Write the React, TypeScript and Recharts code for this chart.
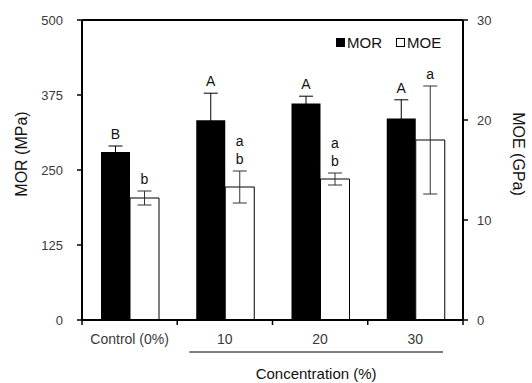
import { Bar, ComposedChart, ErrorBar, LabelList, ReferenceLine, XAxis, YAxis } from "recharts";

const categories = ["Control (0%)", "10", "20", "30"];
const mor = [280, 333, 361, 336];
const morErr = [10, 45, 12, 31];
const moe = [12.2, 13.3, 14.1, 18.0];
const moeErr = [0.7, 1.6, 0.6, 5.4];
const morLetters = [["B"], ["A"], ["A"], ["A"]];
const moeLetters = [["b"], ["a", "b"], ["a", "b"], ["a"]];
const morTicks = [0, 125, 250, 375, 500];
const moeTicks = [0, 10, 20, 30];

const data = categories.map((cat, i) => ({
  cat,
  mor: mor[i],
  morErr: morErr[i],
  moe: moe[i],
  moeErr: moeErr[i],
}));

const W = 532;
const H = 383;
const LEFT_W = 82;
const RIGHT_W = 69;
const BAND = (W - LEFT_W - RIGHT_W) / categories.length;
const FONT = "'Liberation Sans', Arial, sans-serif";
const TICK = { fontSize: 13, fill: "#3a3a3a", fontFamily: FONT };

// letters sit above the top of each error bar
function letters(list: string[][], errs: number[]) {
  return (p: any) => {
    const { x, y, width, height, value, index } = p;
    const errTop = y - (errs[index] * height) / value;
    const cx = x + width / 2;
    const rows = list[index];
    return (
      <g>
        {rows.map((t, k) => (
          <text
            key={k}
            x={cx}
            y={errTop - 12 - (rows.length - 1 - k) * 18}
            textAnchor="middle"
            dominantBaseline="central"
            fontSize={14}
            fontFamily={FONT}
            fill="#111"
          >
            {t}
          </text>
        ))}
      </g>
    );
  };
}

function XTick(p: any) {
  const { x, y, payload, index } = p;
  return (
    <g>
      <line x1={x - BAND / 2} x2={x - BAND / 2} y1={y} y2={y + 5} stroke="#000" strokeWidth={1.5} />
      {index === categories.length - 1 && (
        <line x1={x + BAND / 2} x2={x + BAND / 2} y1={y} y2={y + 5} stroke="#000" strokeWidth={1.5} />
      )}
      <text x={x} y={y + 19} textAnchor="middle" dominantBaseline="central" {...TICK} fontSize={14}>
        {payload.value}
      </text>
    </g>
  );
}

function ConcLabel(p: any) {
  const { x, y, width } = p.viewBox;
  const x0 = x + BAND + 12;
  const x1 = x + width - 20;
  return (
    <g>
      <line x1={x0} x2={x1} y1={y + 32} y2={y + 32} stroke="#000" strokeWidth={1} />
      <text x={(x0 + x1) / 2} y={y + 53} textAnchor="middle" dominantBaseline="central" fontSize={15} fontFamily={FONT} fill="#111">
        Concentration (%)
      </text>
    </g>
  );
}

function SideLabel(text: string, cx: number, angle: number) {
  return (p: any) => {
    const cy = p.viewBox.y + p.viewBox.height / 2 - 16;
    return (
      <text
        x={cx}
        y={cy}
        transform={`rotate(${angle} ${cx} ${cy})`}
        textAnchor="middle"
        dominantBaseline="central"
        fontSize={16}
        fontFamily={FONT}
        fill="#111"
      >
        {text}
      </text>
    );
  };
}

const sq = (filled: boolean) => ({
  display: "inline-block",
  width: 9,
  height: 9,
  marginRight: 2,
  background: filled ? "#000" : "#fff",
  border: "1px solid #000",
  boxSizing: "border-box" as const,
});

export default function App() {
  return (
    <div style={{ position: "absolute", left: 0, top: 0, width: W, height: H, background: "#fff" }}>
      <ComposedChart width={W} height={H} data={data} margin={{ top: 20, right: 0, bottom: 0, left: 0 }} barGap={0} barSize={29}>
        <XAxis
          dataKey="cat"
          height={63}
          interval={0}
          tickLine={false}
          tickSize={0}
          tickMargin={0}
          axisLine={{ stroke: "#000", strokeWidth: 2 }}
          tick={<XTick />}
          label={{ content: ConcLabel }}
        />
        <YAxis
          yAxisId="left"
          width={LEFT_W}
          domain={[0, 500]}
          ticks={morTicks}
          tickSize={5}
          tickMargin={14}
          tick={TICK}
          tickLine={{ stroke: "#000", strokeWidth: 1.5 }}
          axisLine={{ stroke: "#000", strokeWidth: 2 }}
          label={{ content: SideLabel("MOR (MPa)", 21, -90) }}
        />
        <YAxis
          yAxisId="right"
          orientation="right"
          width={RIGHT_W}
          domain={[0, 30]}
          ticks={moeTicks}
          tickSize={5}
          tickMargin={9}
          tick={TICK}
          tickLine={{ stroke: "#000", strokeWidth: 1.5 }}
          axisLine={{ stroke: "#000", strokeWidth: 2 }}
          label={{ content: SideLabel("MOE (GPa)", 518, 90) }}
        />
        <ReferenceLine yAxisId="left" y={500} stroke="#000" strokeWidth={2} />
        <Bar yAxisId="left" dataKey="mor" fill="#000" isAnimationActive={false}>
          <ErrorBar dataKey="morErr" width={7} stroke="#000" strokeWidth={1} />
          <LabelList dataKey="mor" content={letters(morLetters, morErr)} />
        </Bar>
        <Bar yAxisId="right" dataKey="moe" fill="#fff" stroke="#000" strokeWidth={1} isAnimationActive={false}>
          <ErrorBar dataKey="moeErr" width={7} stroke="#333" strokeWidth={1} />
          <LabelList dataKey="moe" content={letters(moeLetters, moeErr)} />
        </Bar>
      </ComposedChart>
      <div
        style={{
          position: "absolute",
          left: 336,
          top: 34,
          fontFamily: FONT,
          fontSize: 15,
          color: "#111",
          display: "flex",
          alignItems: "center",
          whiteSpace: "nowrap",
        }}
      >
        <span style={sq(true)} />
        <span style={{ marginRight: 14 }}>MOR</span>
        <span style={sq(false)} />
        <span>MOE</span>
      </div>
    </div>
  );
}
